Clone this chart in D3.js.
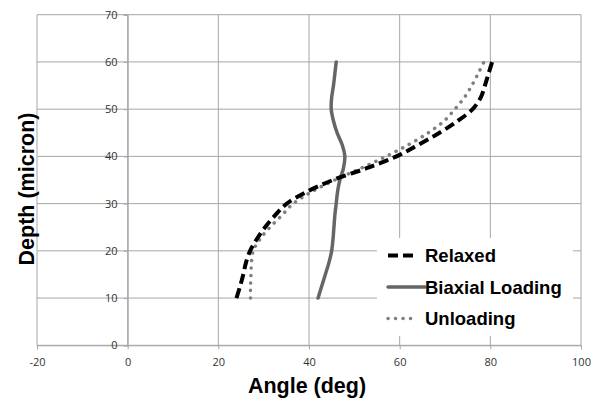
<!DOCTYPE html>
<html>
<head>
<meta charset="utf-8">
<script src="https://cdn.jsdelivr.net/npm/d3@7"></script>
<style>
  body { margin: 0; background: #fff; }
  svg { display: block; font-family: "Liberation Sans", Arial, sans-serif; }
</style>
</head>
<body>
<div id="chart"></div>
<script>
// depth values (micron), shared by all series
const depths = [10, 12.5, 15, 17.5, 20, 22.5, 25, 27.5, 30, 32.5, 35, 37.5, 40, 42.5, 45, 47.5, 50, 52.5, 55, 57.5, 60];
// angle (deg) at each depth
const relaxed = [24.0, 24.8, 25.5, 26.1, 27.0, 28.5, 30.3, 32.5, 35.1, 39.5, 45.3, 52.7, 59.3, 64.2, 68.8, 72.8, 76.1, 77.9, 78.8, 79.6, 80.4];
const biaxial = [42.0, 42.8, 43.6, 44.4, 45.0, 45.3, 45.5, 45.7, 46.0, 46.3, 46.8, 47.6, 47.9, 47.3, 46.2, 45.4, 44.9, 45.0, 45.4, 45.7, 46.0];
const unloading = [27.1, 27.1, 27.2, 27.3, 27.7, 29.2, 31.4, 34.0, 36.5, 40.6, 45.7, 51.5, 57.0, 62.0, 66.3, 69.8, 72.2, 74.3, 75.9, 77.3, 78.6];

const xTicks = [-20, 0, 20, 40, 60, 80, 100];
const yTicks = [0, 10, 20, 30, 40, 50, 60, 70];

const seriesNames = ["Relaxed", "Biaxial Loading", "Unloading"];

const width = 594, height = 398;
const margin = {top: 14.7, right: 13, bottom: 52.7, left: 37};

const svg = d3.select("#chart").append("svg")
    .attr("width", width)
    .attr("height", height);

const x = d3.scaleLinear().domain([-20, 100]).range([margin.left, width - margin.right]);
const y = d3.scaleLinear().domain([0, 70]).range([height - margin.bottom, margin.top]);

const gridColor = "#a6a6a6";

//Gridlines
const grid = svg.append("g").attr("class", "grid");
grid.selectAll("line.v").data(xTicks).enter().append("line")
    .attr("x1", d => x(d)).attr("x2", d => x(d))
    .attr("y1", y(0)).attr("y2", y(70))
    .attr("stroke", gridColor).attr("stroke-width", 1);
grid.selectAll("line.h").data(yTicks).enter().append("line")
    .attr("x1", x(-20)).attr("x2", x(100))
    .attr("y1", d => y(d)).attr("y2", d => y(d))
    .attr("stroke", gridColor).attr("stroke-width", 1);

//Axes
const plain = d => String(d);
const xAxis = svg.append("g")
    .attr("transform", `translate(0,${y(0)})`)
    .call(d3.axisBottom(x).tickValues(xTicks).tickFormat(plain).tickSize(4).tickPadding(9));
const yAxis = svg.append("g")
    .attr("transform", `translate(${x(0)},0)`)
    .call(d3.axisLeft(y).tickValues(yTicks).tickFormat(plain).tickSize(4).tickPadding(6));
[xAxis, yAxis].forEach(a => {
    a.select(".domain").attr("stroke", gridColor);
    a.selectAll(".tick line").attr("stroke", gridColor);
    a.selectAll(".tick text")
        .attr("fill", "#333")
        .style("font-size", "11px")
        .style("font-family", "'Open Sans', 'Liberation Sans', sans-serif");
});

//Lines
const line = d3.line()
    .x(d => x(d[0]))
    .y(d => y(d[1]))
    .curve(d3.curveCatmullRom);

const styles = [
    {values: relaxed, stroke: "#000", width: 4, dash: "10,5", cap: "butt"},
    {values: biaxial, stroke: "#666", width: 3.5, dash: null, cap: "round"},
    {values: unloading, stroke: "#7f7f7f", width: 3.5, dash: "0.1,7.4", cap: "round"}
];

// draw biaxial first, then unloading, relaxed on top
[1, 2, 0].forEach(i => {
    const s = styles[i];
    svg.append("path")
        .datum(depths.map((d, j) => [s.values[j], d]))
        .attr("fill", "none")
        .attr("stroke", s.stroke)
        .attr("stroke-width", s.width)
        .attr("stroke-dasharray", s.dash)
        .attr("stroke-linecap", s.cap)
        .attr("stroke-linejoin", "round")
        .attr("d", line);
});

//Legend
const legend = svg.append("g");
legend.append("rect")
    .attr("x", 377).attr("y", 238)
    .attr("width", 196).attr("height", 98)
    .attr("fill", "#fff");
const rows = legend.selectAll("g.item").data(seriesNames).enter().append("g")
    .attr("transform", (d, i) => `translate(388,${255.5 + i * 31.5})`);
rows.append("line")
    .attr("x1", 0)
    .attr("x2", (d, i) => i === 1 ? 37 : 29)
    .attr("y1", 0).attr("y2", 0)
    .attr("stroke", (d, i) => styles[i].stroke)
    .attr("stroke-width", (d, i) => styles[i].width)
    .attr("stroke-dasharray", (d, i) => i === 0 ? "10,5" : styles[i].dash)
    .attr("stroke-linecap", (d, i) => styles[i].cap);
rows.append("text")
    .attr("x", 37)
    .attr("y", 6.5)
    .attr("font-size", "18.5px")
    .attr("font-weight", "bold")
    .attr("fill", "#000")
    .text(d => d);

//Axis titles
svg.append("text")
    .attr("x", 307)
    .attr("y", 393)
    .attr("text-anchor", "middle")
    .attr("font-size", "21.5px")
    .attr("font-weight", "bold")
    .text("Angle (deg)");

svg.append("text")
    .attr("transform", "translate(34,189) rotate(-90)")
    .attr("text-anchor", "middle")
    .attr("font-size", "21.5px")
    .attr("font-weight", "bold")
    .text("Depth (micron)");
</script>
</body>
</html>
